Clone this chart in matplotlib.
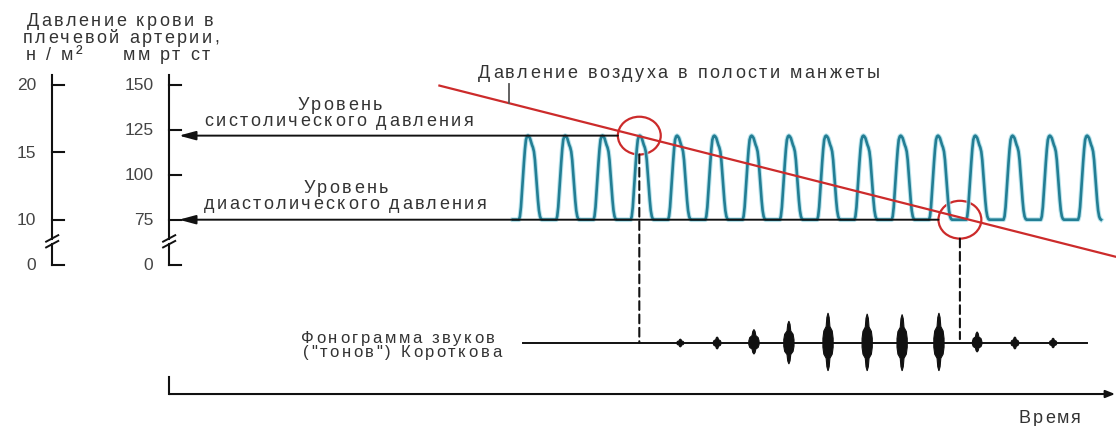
import numpy as np
import matplotlib.pyplot as plt
from matplotlib.patches import Ellipse, Polygon, ConnectionPatch
from matplotlib.font_manager import FontProperties
from matplotlib.transforms import Affine2D, IdentityTransform

W, H = 1116, 427

# pressure scales (mm Hg and kN/m2), the lower part of both is broken
mmhg_ticks = [150, 125, 100, 75]
kpa_ticks = [20, 15, 10]
zero_pos = 50          # level where the broken scales put "0"
break_pos = 63
systolic = 121.7
diastolic = 75

# arterial pulse: peak times (s) and the shape of one beat
peak_t = [7.7, 8.5, 9.3, 10.1, 10.9, 11.7, 12.5, 13.3, 14.1, 14.9, 15.7, 16.5, 17.3, 18.1, 18.9, 19.7]
pulse_dt = [-0.193, -0.172, -0.150, -0.129, -0.107, -0.086, -0.064, -0.043, -0.021, 0,
            0.021, 0.043, 0.064, 0.086, 0.107, 0.129, 0.150, 0.172, 0.193, 0.215,
            0.236, 0.258, 0.279, 0.300]
pulse_lvl = [0, 0.04, 0.15, 0.33, 0.5, 0.68, 0.84, 0.95, 0.99, 1.0,
             0.99, 0.97, 0.93, 0.89, 0.86, 0.81, 0.71, 0.55, 0.38, 0.23,
             0.11, 0.04, 0.01, 0]

# air pressure in the cuff
cuff_t = [5.8, 20.3]
cuff_p = [149.5, 54.5]

# Korotkoff sounds
first_tone_t = 10.09
last_tone_t = 16.97
tone_t = [10.97, 11.76, 12.55, 13.30, 14.14, 14.98, 15.73, 16.52, 17.34, 18.15, 18.97]
tone_up = [0.13, 0.2, 0.45, 0.73, 1.0, 0.97, 0.95, 1.0, 0.37, 0.2, 0.16]
tone_down = [0.13, 0.2, 0.37, 0.7, 0.93, 0.93, 0.93, 0.93, 0.3, 0.2, 0.16]
phono_span = [7.6, 19.7]
spindle_dx = [0, 0.025, 0.04, 0.09, 0.11, 0.11, 0.09, 0.04, 0.025, 0]
spindle_dy = [1, 0.85, 0.55, 0.4, 0.15, -0.15, -0.4, -0.55, -0.85, -1]

INK = '#111111'
TXT = '#333333'
RED = '#cc2b2b'
BLUE = '#237e94'

fig = plt.figure(figsize=(W / 100, H / 100), dpi=100)
ax = fig.add_axes([0, 0, 1, 1])
ax.set_xlim(-3.63, 20.32)
ax.set_ylim(-39.6, 197.6)
ax.axis('off')

ax_snd = fig.add_axes([0, 38 / H, 1, 90 / H])
ax_snd.set_xlim(ax.get_xlim())
ax_snd.set_ylim(-1.5, 1.5)
ax_snd.axis('off')

renderer = fig.canvas.get_renderer()
top_left = Affine2D().scale(1, -1).translate(0, H)


def text_w(s, fp):
    return renderer.get_text_width_height_descent(s, fp, ismath=False)[0]


def tracked(x, y, s, size=13, track=2.5, ha='center'):
    # letter-spaced label, x/y in pixels from the top-left corner, y = baseline
    fp = FontProperties(family='Liberation Sans', size=size)
    x0, y0 = top_left.transform((x, y))
    total = text_w(s, fp) + track * (len(s) - 1)
    x0 -= {'left': 0, 'center': total / 2, 'right': total}[ha]
    for i, c in enumerate(s):
        if c == ' ':
            continue
        left = text_w(s[:i + 1], fp) - text_w(c, fp) + track * i
        cfp = fp if c != '²' else FontProperties(family='Liberation Sans', size=size * 1.1)
        fig.text(x0 + left, y0, c, fontproperties=cfp, color=TXT, va='baseline',
                 transform=IdentityTransform())


# scales
def scale(t_axis, ticks, labels):
    ax.plot([t_axis, t_axis], [155.4, break_pos + 1.4], color=INK, lw=1.5)
    ax.plot([t_axis, t_axis], [break_pos - 1.4, zero_pos], color=INK, lw=1.5)
    for p in list(ticks) + [zero_pos]:
        ax.plot([t_axis, t_axis + 0.25], [p, p], color=INK, lw=1.5)
    for p, lab in zip(list(ticks) + [zero_pos], labels + ['0']):
        ax.text(t_axis - 0.34, p, lab, ha='right', va='center', color='#444444',
                fontsize=12.5, family='Liberation Sans')
    for dp in (-1.6, 1.6):
        ax.plot([t_axis - 0.13, t_axis + 0.13], [break_pos + dp - 1.8, break_pos + dp + 1.8],
                color=INK, lw=1.4)


scale(-2.51, [k * 7.5 for k in kpa_ticks], [str(k) for k in kpa_ticks])
scale(0, mmhg_ticks, [str(m) for m in mmhg_ticks])

# pulse wave
wt = [7.38]
wp = [diastolic]
for pk in peak_t:
    wt += [pk + d for d in pulse_dt]
    wp += [diastolic + (systolic - diastolic) * lv for lv in pulse_lvl]
ax.plot(wt, wp, color='#a8dde8', lw=3.4, solid_joinstyle='round', alpha=0.8)
ax.plot(wt, wp, color=BLUE, lw=1.9, solid_joinstyle='round')

# cuff pressure
ax.plot(cuff_t, cuff_p, color=RED, lw=1.6)
tick_t = 7.3
ax.plot([tick_t, tick_t], [150.5, np.interp(tick_t, cuff_t, cuff_p)], color='#555555', lw=1.3)

# systolic / diastolic levels
circ_w, circ_h = 0.92, 21
for lvl, tc in [(systolic, first_tone_t), (diastolic, last_tone_t)]:
    ax.add_patch(Ellipse((tc, lvl), circ_w, circ_h, fill=False, ec=RED, lw=1.6))
    ax.annotate('', xy=(0.21, lvl), xytext=(tc - circ_w / 2, lvl),
                arrowprops=dict(arrowstyle='-|>,head_length=1.0,head_width=0.27',
                                mutation_scale=10, color=INK, lw=1.4,
                                shrinkA=0, shrinkB=0))

for tc, lvl, y_end in [(first_tone_t, systolic, 0), (last_tone_t, diastolic, 0.13)]:
    con = ConnectionPatch(xyA=(tc, lvl - circ_h / 2), coordsA=ax.transData,
                          xyB=(tc, y_end), coordsB=ax_snd.transData,
                          color=INK, lw=1.5, ls=(0, (4.2, 2.2)))
    fig.add_artist(con)

# phonogram
ax_snd.plot(phono_span, [0, 0], color=INK, lw=1.4)
for t, up, dn in zip(tone_t, tone_up, tone_down):
    ws = min(1.0, 0.55 + up)
    right = [(t + dx * ws, dy * (up if dy > 0 else dn)) for dx, dy in zip(spindle_dx, spindle_dy)]
    left = [(2 * t - x, y) for x, y in right[::-1]]
    ax_snd.add_patch(Polygon(right + left, closed=True, fc=INK, ec=INK, lw=0.8))

# time axis
xt = ax.get_xaxis_transform()
ax.plot([0, 0], [0.0749, 0.1148], transform=xt, color=INK, lw=1.5)
ax.annotate('', xy=(20.3, 0.0749), xytext=(0, 0.0749), xycoords=xt, textcoords=xt,
            arrowprops=dict(arrowstyle='-|>,head_length=0.55,head_width=0.22',
                            mutation_scale=10, color=INK, lw=1.5, shrinkA=0, shrinkB=0))

# labels
tracked(120, 26, 'Давление крови в')
tracked(121, 43, 'плечевой артерии,')
tracked(54, 60, 'н / м²')
tracked(166, 60, 'мм рт ст')
tracked(478, 78, 'Давление воздуха в полости манжеты', ha='left')
tracked(340, 110, 'Уровень')
tracked(339, 126, 'систолического давления')
tracked(346, 193, 'Уровень')
tracked(345, 209, 'диастолического давления')
tracked(398, 343, 'Фонограмма звуков', size=12, track=2.6)
tracked(402, 357, '("тонов") Короткова', size=12, track=2.6)
tracked(1050, 423, 'Время', track=2.0)

fig.savefig('out.png', dpi=100)
